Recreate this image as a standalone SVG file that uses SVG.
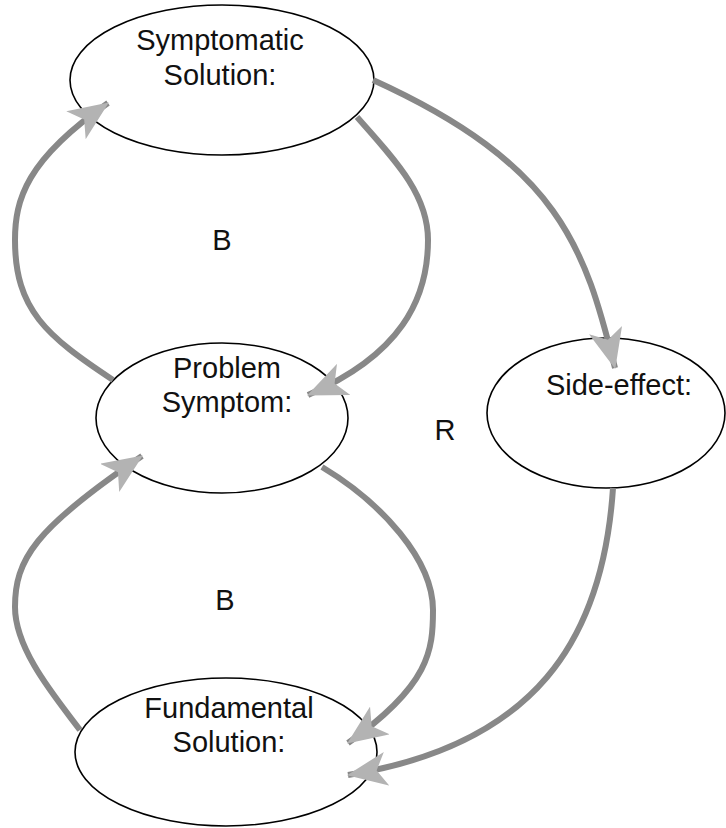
<svg xmlns="http://www.w3.org/2000/svg" width="726" height="828" viewBox="0 0 726 828">
<style>
.node ellipse{fill:#fff;stroke:#000;stroke-width:1.6}
text{font-family:"Liberation Sans",Arial,sans-serif;font-size:29px;fill:#111;text-anchor:middle}
.link{fill:none;stroke:#888;stroke-width:6;marker-end:url(#ah)}
</style>
<defs>
<marker id="ah" viewBox="0 0 40 34" refX="39" refY="17" markerWidth="40" markerHeight="34" markerUnits="userSpaceOnUse" orient="auto">
<path d="M0,0 L40,17 L0,34 L10,17 Z" fill="#b3b3b3"/>
</marker>
</defs>
<rect width="726" height="828" fill="#fff"/>
<g id="symptomatic-solution" class="node">
<ellipse cx="222" cy="80" rx="152" ry="75"/>
<text x="220" y="50">Symptomatic</text>
<text x="220" y="85">Solution:</text>
</g>
<g id="problem-symptom" class="node">
<ellipse cx="222" cy="418" rx="126" ry="75"/>
<text x="227" y="378">Problem</text>
<text x="227" y="412">Symptom:</text>
</g>
<g id="side-effect" class="node">
<ellipse cx="606" cy="413" rx="119" ry="75"/>
<text x="619" y="395">Side-effect:</text>
</g>
<g id="fundamental-solution" class="node">
<ellipse cx="226" cy="752" rx="151" ry="74"/>
<text x="229" y="718">Fundamental</text>
<text x="229" y="752">Solution:</text>
</g>
<g id="loop-labels">
<text x="222" y="250">B</text>
<text x="225" y="610">B</text>
<text x="445" y="440">R</text>
</g>
<g id="connectors">
<path class="link" d="M113,380 C46.6,336 15,310 15,240 C15,200 26,160 108,103"/>
<path class="link" d="M357,117 C397,162 428,195 428,240 C428,300 400,355 308,395"/>
<path class="link" d="M373,80 C560,165 585,248 615,368"/>
<path class="link" d="M322,467 C382,503 433,560 433,610 C433,650 430,685 348,743"/>
<path class="link" d="M80,730 C56,698 15,650 15,607 C15,560 34,529 142,456"/>
<path class="link" d="M613,488 C603,640 535,745 348,775"/>
</g>
</svg>
